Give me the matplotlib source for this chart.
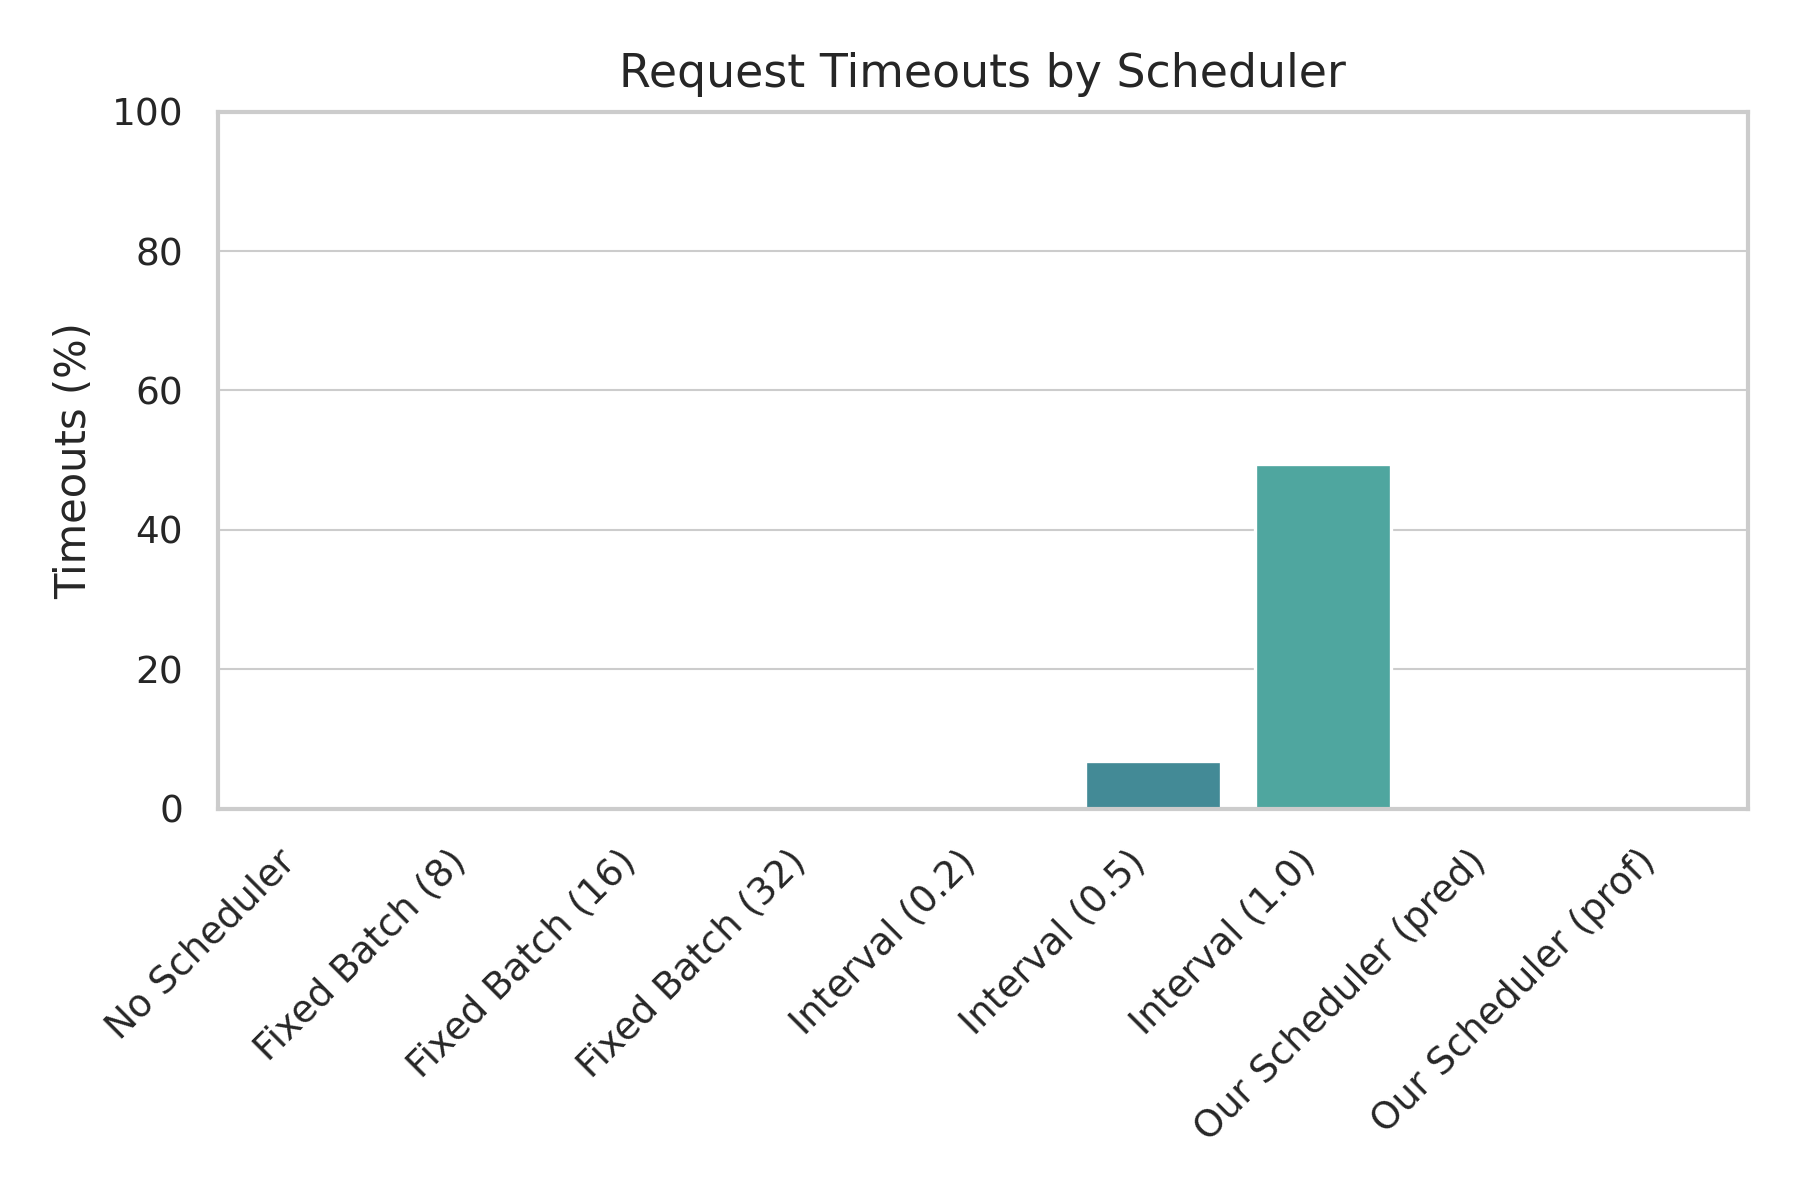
import matplotlib
matplotlib.use("Agg")
import matplotlib.pyplot as plt
import seaborn as sns

schedulers = ["No Scheduler", "Fixed Batch (8)", "Fixed Batch (16)", "Fixed Batch (32)",
              "Interval (0.2)", "Interval (0.5)", "Interval (1.0)",
              "Our Scheduler (pred)", "Our Scheduler (prof)"]
timeouts = [0.0, 0.0, 0.0, 0.0, 0.0, 6.9, 49.4, 0.0, 0.0]
bar_colors = ["#3b2f5e", "#3e4a7c", "#3c6390", "#3d7a98", "#41849a",
              "#438a96", "#4fa69f", "#7cc3a8", "#b5dcc0"]

sns.set_theme(context="paper", style="whitegrid")
plt.rcParams['font.family'] = ['DejaVu Sans']

fig, ax = plt.subplots(figsize=(6, 4))
sns.barplot(x=schedulers, y=timeouts, hue=schedulers, palette=bar_colors,
            saturation=1, legend=False, ax=ax)
ax.set_ylim(0, 100)
ax.set_title("Request Timeouts by Scheduler", fontsize=11)
ax.set_ylabel("Timeouts (%)", fontsize=10)
ax.set_xlabel("")
ax.tick_params(axis='both', labelsize=9)
ax.grid(axis='y', linewidth=0.5)
plt.setp(ax.get_xticklabels(), rotation=45, ha='right')

plt.subplots_adjust(left=0.121, right=0.971, top=0.907, bottom=0.326)
plt.savefig("out.png", dpi=300)
